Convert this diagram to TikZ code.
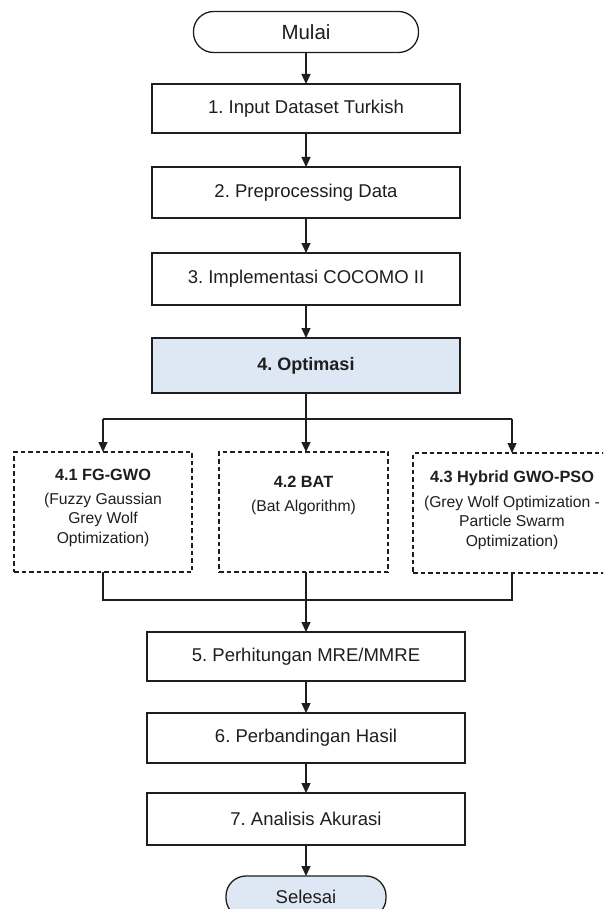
\documentclass[tikz,border=0pt]{standalone}
\usepackage{fontspec}
\setmainfont{Liberation Sans}
\usetikzlibrary{arrows.meta}
\frenchspacing
\definecolor{lblue}{HTML}{DEE8F4}
\definecolor{ink}{HTML}{1E1E1E}
\tikzset{
  every node/.style={inner sep=0pt, outer sep=0pt, text=ink},
  terminal/.style={draw=ink, line width=1.3pt, rounded corners=20pt, minimum height=41pt, font=\fontsize{18.5}{22}\selectfont},
  stepbox/.style={draw=ink, line width=1.3pt, fill=white, minimum height=50pt, font=\fontsize{18.5}{22}\selectfont},
  algbox/.style={draw=ink, line width=1.2pt, dash pattern=on 4.5pt off 3pt, minimum height=120pt},
  algtitle/.style={anchor=north, font=\bfseries\fontsize{16.3}{19.5}\selectfont},
  algtext/.style={anchor=north, align=center, font=\fontsize{15.7}{19.5}\selectfont},
  conn/.style={draw=ink, line width=1.3pt},
  arr/.style={conn, -{Triangle[length=10pt,width=9pt]}}
}
\begin{document}
\begin{tikzpicture}[x=1pt,y=-1pt]
\clip (0,0) rectangle (603,909);
\fill[white] (0,0) rectangle (603,909);

\node[terminal, fill=white, minimum width=225pt, font=\fontsize{20.5}{24}\selectfont] (mulai) at (306,32) {Mulai};
\node[stepbox, minimum width=308pt, minimum height=49pt] (s1) at (306,108.5) {1. Input Dataset Turkish};
\node[stepbox, minimum width=308pt, minimum height=51pt] (s2) at (306,192.5) {2. Preprocessing Data};
\node[stepbox, minimum width=308pt, minimum height=52pt] (s3) at (306,279) {3. Implementasi COCOMO II};
\node[stepbox, fill=lblue, minimum width=308pt, minimum height=55pt, font=\bfseries\fontsize{18}{22}\selectfont] (s4) at (306,365.5) {4. Optimasi};

\node[algbox, minimum width=178pt] (fg) at (103,512) {};
\node[algbox, minimum width=169pt] (bat) at (303.5,512) {};
\node[algbox, minimum width=198pt] (hy) at (512,513) {};

\node[algtitle] (fgt) at (103,469) {4.1 FG-GWO};
\node[algtext] (fgx) at (103,493) {(Fuzzy Gaussian\\Grey Wolf\\Optimization)};
\node[algtitle] (batt) at (303.5,476) {4.2 BAT};
\node[algtext] (batx) at (303.5,500) {(Bat Algorithm)};
\node[algtitle] (hyt) at (512,471) {4.3 Hybrid GWO-PSO};
\node[algtext] (hyx) at (512,496) {(Grey Wolf Optimization -\\Particle Swarm\\Optimization)};

\node[stepbox, minimum width=318pt, minimum height=49pt] (s5) at (306,656.5) {5. Perhitungan MRE/MMRE};
\node[stepbox, minimum width=318pt, minimum height=50pt] (s6) at (306,738) {6. Perbandingan Hasil};
\node[stepbox, minimum width=318pt, minimum height=52pt] (s7) at (306,819) {7. Analisis Akurasi};
\node[terminal, fill=lblue, minimum width=160pt, minimum height=42pt] (selesai) at (306,897) {Selesai};

\coordinate (bl) at (103,419);
\coordinate (br) at (512,419);
\coordinate (ml) at (103,600);
\coordinate (mr) at (512,600);
\coordinate (mc) at (306,600);

\draw[arr] (mulai.south) -- (s1.north);
\draw[arr] (s1.south) -- (s2.north);
\draw[arr] (s2.south) -- (s3.north);
\draw[arr] (s3.south) -- (s4.north);

\draw[arr] (s4.south) -- (s4.south |- bat.north);
\draw[conn] (bl) -- (br);
\draw[arr] (bl) -- (fg.north);
\draw[arr] (br) -- (hy.north);

\draw[conn] (fg.south) -- (ml) -- (mr) -- (hy.south);
\draw[conn] (s4.south |- bat.south) -- (mc);
\draw[arr] (mc) -- (s5.north);

\draw[arr] (s5.south) -- (s6.north);
\draw[arr] (s6.south) -- (s7.north);
\draw[arr] (s7.south) -- (selesai.north);
\end{tikzpicture}
\end{document}
